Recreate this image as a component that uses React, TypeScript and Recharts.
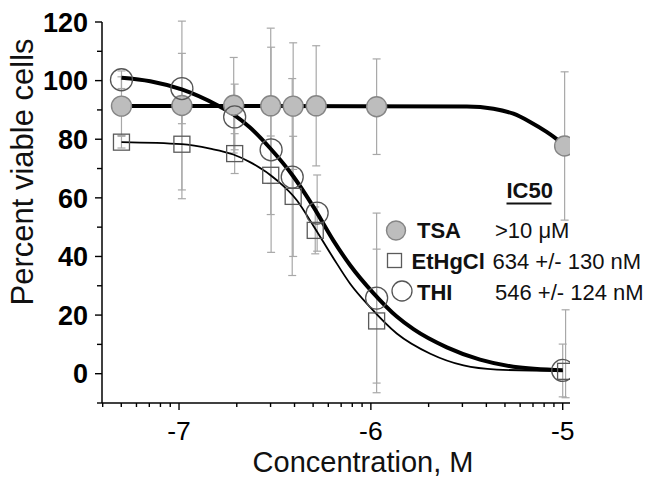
import React from "react";
import { ComposedChart, Line, Scatter, ErrorBar, XAxis, YAxis } from "recharts";

const FONT = '"Liberation Sans", Arial, Helvetica, sans-serif';

// measured points (log10 M, % viable)
const tsaDose = [-7.3, -6.985, -6.715, -6.522, -6.405, -6.285, -5.97, -4.99];
const tsaMean = [91.3, 91.5, 91.6, 91.4, 91.3, 91.4, 91.1, 77.7];
const tsaErr = [10, 28.8, 16.3, 26.5, 21.6, 20.5, 16.3, 25.3];

const thiDose = [-7.3, -6.985, -6.71, -6.52, -6.41, -6.28, -5.97, -5.0];
const thiMean = [100.3, 97.3, 87.6, 76.4, 67.1, 54.8, 25.8, 1.1];
const thiErr = [3, 12, 11.2, 35, 33.6, 13, 29, 9];

const etDose = [-7.3, -6.985, -6.71, -6.522, -6.405, -6.29, -5.97, -4.985];
const etMean = [79.0, 78.3, 75.1, 67.7, 60.5, 48.9, 18.0, 0.8];
const etErrLow = [2, 18.6, 6.8, 13.4, 20.5, 8, 24.5, 9];
const etErrHigh = [2, 18.6, 6.8, 13.4, 20.5, 8, 24.5, 21];

// fitted curves
const tsaFitX = [-7.3, -6.5, -5.5, -5.361, -5.257, -5.17, -5.084, -5.023, -4.99];
const tsaFitY = [91.3, 91.3, 91.2, 90.4, 88.7, 85.9, 82.5, 79.6, 77.7];

const thiFitX = [-7.3, -7.15, -6.986, -6.8, -6.717, -6.63, -6.526, -6.404, -6.3, -6.196, -6.108, -5.987, -5.865, -5.778, -5.604, -5.431, -5.257, -5.0];
const thiFitY = [101.0, 99.8, 97.0, 91.6, 88.5, 84.0, 77.0, 67.3, 57.0, 45.5, 37.0, 27.5, 19.5, 15.2, 9.0, 4.8, 2.4, 1.2];

const etFitX = [-7.3, -6.986, -6.838, -6.717, -6.63, -6.49, -6.386, -6.3, -6.196, -6.108, -6.004, -5.865, -5.69, -5.517, -5.343, -5.0];
const etFitY = [79.0, 78.3, 76.8, 74.8, 72.2, 66.0, 59.2, 50.5, 39.5, 30.7, 22.7, 13.7, 6.8, 2.8, 1.4, 0.9];

// axes
const xDecades = [-8, -7, -6, -5];
const xMultipliers = [1, 2, 3, 4, 5, 6, 7, 8, 9];
const xDomain = [-7.4015, -4.962];
const yTicks = [-10, 0, 10, 20, 30, 40, 50, 60, 70, 80, 90, 100, 110, 120];

const xTicks = xDecades
  .flatMap((d) => xMultipliers.map((k) => d + Math.log10(k)))
  .filter((v) => v >= xDomain[0] && v <= xDomain[1]);

const zip = (xs: number[], ys: number[]) => xs.map((x, i) => ({ x, y: ys[i] }));

const tsaPoints = tsaDose.map((x, i) => ({ x, y: tsaMean[i], err: tsaErr[i] }));
const thiPoints = thiDose.map((x, i) => ({ x, y: thiMean[i], err: thiErr[i] }));
const etPoints = etDose.map((x, i) => ({ x, y: etMean[i], err: [etErrLow[i], etErrHigh[i]] }));

const XTick = (props: any) => {
  const { x, y, payload } = props;
  const v = payload.value;
  const major = Math.abs(v - Math.round(v)) < 1e-6;
  return (
    <g>
      <line x1={x} x2={x} y1={y} y2={y + (major ? 7 : 4)} stroke="#000" strokeWidth={1.4} />
      {major && (
        <text x={x} y={y + 37} textAnchor="middle" fontSize={26.5} fontFamily={FONT} fill="#000">
          {Math.round(v)}
        </text>
      )}
    </g>
  );
};

const YTick = (props: any) => {
  const { x, y, payload } = props;
  const v = payload.value;
  const major = v >= 0 && v % 20 === 0;
  return (
    <g>
      <line x1={x - (major ? 7 : 5)} x2={x} y1={y} y2={y} stroke="#000" strokeWidth={1.4} />
      {major && (
        <text x={x - 14} y={y} dy="0.36em" textAnchor="end" fontSize={27} fontWeight="bold" fontFamily={FONT} fill="#000">
          {v}
        </text>
      )}
    </g>
  );
};

const none = () => <g />;

const TsaDot = (p: any) => <circle cx={p.cx} cy={p.cy} r={10} fill="#bdbdbd" stroke="#858585" strokeWidth={1.4} />;
const ThiDot = (p: any) => <circle cx={p.cx} cy={p.cy} r={11} fill="none" stroke="#555" strokeWidth={1.3} />;
const EtDot = (p: any) => <rect x={p.cx - 8} y={p.cy - 8} width={16} height={16} fill="none" stroke="#5a5a5a" strokeWidth={1.3} />;

const errStyle = { stroke: "#a8a8a8", strokeWidth: 1.2, width: 4 };

function Legend() {
  const t = { fontFamily: FONT, fontSize: 22, fill: "#111" };
  return (
    <svg width={655} height={477} style={{ position: "absolute", left: 0, top: 0, pointerEvents: "none" }}>
      <text x={506.5} y={198} {...t} fontWeight="bold">IC50</text>
      <line x1={506.5} x2={551.5} y1={203.5} y2={203.5} stroke="#111" strokeWidth={2} />
      <circle cx={396} cy={230.5} r={9.5} fill="#bdbdbd" stroke="#858585" strokeWidth={1.4} />
      <text x={417} y={238} {...t} fontWeight="bold">TSA</text>
      <text x={495} y={238} {...t}>{">10 \u03bcM"}</text>
      <rect x={387.5} y={253.5} width={14} height={14} fill="none" stroke="#5a5a5a" strokeWidth={1.3} />
      <text x={411.5} y={268.5} {...t} fontWeight="bold">EtHgCl</text>
      <text x={492.5} y={268.5} {...t}>634 +/- 130 nM</text>
      <circle cx={402} cy={291} r={10} fill="none" stroke="#555" strokeWidth={1.3} />
      <text x={417} y={300} {...t} fontWeight="bold">THI</text>
      <text x={495} y={300} {...t}>546 +/- 124 nM</text>
    </svg>
  );
}

export default function App() {
  return (
    <div style={{ position: "absolute", left: 0, top: 0, width: 655, height: 477, background: "#fff" }}>
      <ComposedChart width={655} height={477} margin={{ top: 22, right: 85, bottom: 0, left: 0 }}>
        <XAxis
          type="number"
          dataKey="x"
          domain={xDomain}
          allowDataOverflow
          ticks={xTicks}
          interval={0}
          tickSize={0}
          tickMargin={0}
          tickLine={false}
          tick={<XTick />}
          height={74}
          axisLine={{ stroke: "#000", strokeWidth: 1.5 }}
          label={{
            content: (p: any) => (
              <text x={p.viewBox.x + p.viewBox.width / 2 + 27} y={p.viewBox.y + 69} textAnchor="middle" fontSize={29} fontFamily={FONT} fill="#111">
                Concentration, M
              </text>
            ),
          }}
        />
        <YAxis
          type="number"
          dataKey="y"
          domain={[-10, 120]}
          allowDataOverflow
          ticks={yTicks}
          interval={0}
          tickSize={0}
          tickMargin={0}
          tickLine={false}
          tick={<YTick />}
          width={102}
          axisLine={{ stroke: "#000", strokeWidth: 1.5 }}
          label={{
            content: (p: any) => {
              const cy = p.viewBox.y + 150;
              return (
                <text x={33} y={cy} transform={`rotate(-90 33 ${cy})`} textAnchor="middle" fontSize={31} fontFamily={FONT} fill="#111">
                  Percent viable cells
                </text>
              );
            },
          }}
        />

        {/* error bars first so they sit behind everything */}
        <Scatter data={tsaPoints} dataKey="y" shape={none} isAnimationActive={false}>
          <ErrorBar dataKey="err" direction="y" {...errStyle} />
        </Scatter>
        <Scatter data={thiPoints} dataKey="y" shape={none} isAnimationActive={false}>
          <ErrorBar dataKey="err" direction="y" {...errStyle} />
        </Scatter>
        <Scatter data={etPoints} dataKey="y" shape={none} isAnimationActive={false}>
          <ErrorBar dataKey="err" direction="y" {...errStyle} />
        </Scatter>

        <Line data={zip(tsaFitX, tsaFitY)} dataKey="y" type="monotone" stroke="#000" strokeWidth={4} dot={false} isAnimationActive={false} />
        <Line data={zip(etFitX, etFitY)} dataKey="y" type="monotone" stroke="#000" strokeWidth={1.8} dot={false} isAnimationActive={false} />
        <Line data={zip(thiFitX, thiFitY)} dataKey="y" type="monotone" stroke="#000" strokeWidth={4} dot={false} isAnimationActive={false} />

        <Scatter data={tsaPoints} dataKey="y" shape={TsaDot} isAnimationActive={false} />
        <Scatter data={etPoints} dataKey="y" shape={EtDot} isAnimationActive={false} />
        <Scatter data={thiPoints} dataKey="y" shape={ThiDot} isAnimationActive={false} />
      </ComposedChart>
      <Legend />
    </div>
  );
}
